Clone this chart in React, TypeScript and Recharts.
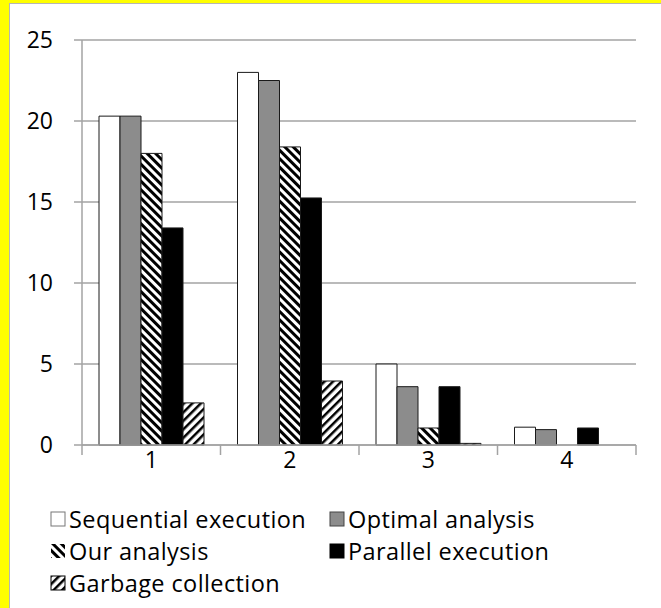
import React from "react";
import { BarChart, Bar, XAxis, YAxis, CartesianGrid } from "recharts";

const categories = ["1", "2", "3", "4"];
const sequential = [20.3, 23.0, 5.0, 1.1];
const optimal = [20.3, 22.5, 3.6, 0.95];
const ours = [18.0, 18.4, 1.05, 0];
const parallel = [13.4, 15.25, 3.6, 1.05];
const garbage = [2.6, 3.95, 0.1, 0];
const yTicks = [0, 5, 10, 15, 20, 25];

const data = categories.map((name, i) => ({
  name,
  sequential: sequential[i],
  optimal: optimal[i],
  ours: ours[i],
  parallel: parallel[i],
  garbage: garbage[i],
}));

const FONT = "'Open Sans', sans-serif";
const axisGray = "#a3a3a3";
const barGray = "#8c8c8c";
const outline = "#1a1a1a";

const chartW = 661;
const chartH = 480;
const margin = { top: 40, right: 25, left: 0, bottom: 0 };
const yAxisW = 82;
const halfBand = (chartW - margin.right - yAxisW) / categories.length / 2;

function XTick(props) {
  const { x, y, payload, index } = props;
  return (
    <g>
      <line x1={x - halfBand} x2={x - halfBand} y1={y} y2={y + 10} stroke={axisGray} strokeWidth={1.5} />
      {index === categories.length - 1 && (
        <line x1={x + halfBand} x2={x + halfBand} y1={y} y2={y + 10} stroke={axisGray} strokeWidth={1.5} />
      )}
      <text x={x} y={y + 23} textAnchor="middle" fill="#000" fontSize={23} fontFamily={FONT}>
        {payload.value}
      </text>
    </g>
  );
}

function Hatch({ id, dir, thick }) {
  return (
    <pattern
      id={id}
      patternUnits="userSpaceOnUse"
      width={6}
      height={6}
      patternTransform={`rotate(${dir})`}
    >
      <rect width={6} height={6} fill="#fff" />
      <rect width={thick} height={6} fill="#000" />
    </pattern>
  );
}

const legendItems = [
  { label: "Sequential execution", fill: "#fff", stroke: "#777", col: 0, row: 0 },
  { label: "Optimal analysis", fill: barGray, stroke: "#444", col: 1, row: 0 },
  { label: "Our analysis", fill: "url(#lgOur)", stroke: "none", col: 0, row: 1 },
  { label: "Parallel execution", fill: "#000", stroke: "#000", col: 1, row: 1 },
  { label: "Garbage collection", fill: "url(#lgGc)", stroke: "#000", col: 0, row: 2 },
];

function Legend() {
  return (
    <div style={{ position: "absolute", left: 0, top: 0, width: chartW, height: 608, pointerEvents: "none" }}>
      {legendItems.map((it) => (
        <div
          key={it.label}
          style={{
            position: "absolute",
            left: it.col === 0 ? 50 : 329,
            top: 503 + it.row * 32,
            height: 32,
            lineHeight: "32px",
            display: "flex",
            alignItems: "center",
            fontFamily: FONT,
            fontSize: 23.5,
            letterSpacing: 0.4,
            color: "#000",
            whiteSpace: "nowrap",
          }}
        >
          <svg width={16} height={16} style={{ marginRight: 3 }}>
            <defs>
              <Hatch id="lgOur" dir={-45} thick={3} />
              <Hatch id="lgGc" dir={45} thick={2.5} />
            </defs>
            <rect x={1} y={1} width={14} height={14} fill={it.fill} stroke={it.stroke} strokeWidth={1} />
          </svg>
          <span>{it.label}</span>
        </div>
      ))}
    </div>
  );
}

export default function App() {
  return (
    <div style={{ position: "absolute", left: 0, top: 0, width: 661, height: 608, background: "#ffff00" }}>
      <div
        style={{
          position: "absolute",
          left: 9,
          top: 3,
          right: 0,
          bottom: 0,
          background: "#fff",
          borderLeft: "1.5px solid #b5b5b5",
          borderTop: "1.5px solid #b5b5b5",
        }}
      />
      <div style={{ position: "absolute", left: 0, top: 0 }}>
        <BarChart
          width={chartW}
          height={chartH}
          data={data}
          margin={margin}
          barCategoryGap={17}
          barGap={0}
        >
          <defs>
            <Hatch id="ourHatch" dir={-45} thick={3} />
            <Hatch id="gcHatch" dir={45} thick={2.5} />
          </defs>
          <CartesianGrid vertical={false} stroke={axisGray} strokeWidth={1.5} />
          <XAxis
            dataKey="name"
            height={35}
            axisLine={{ stroke: axisGray, strokeWidth: 1.5 }}
            tickLine={false}
            tickSize={0}
            tickMargin={0}
            tick={<XTick />}
            interval={0}
          />
          <YAxis
            width={yAxisW}
            domain={[0, 25]}
            ticks={yTicks}
            axisLine={{ stroke: axisGray, strokeWidth: 1.5 }}
            tickLine={{ stroke: axisGray, strokeWidth: 1.5 }}
            tickSize={8}
            tickMargin={21}
            tick={{ fill: "#000", fontSize: 23, fontFamily: FONT }}
          />
          <Bar dataKey="sequential" fill="#fff" stroke={outline} strokeWidth={1} isAnimationActive={false} />
          <Bar dataKey="optimal" fill={barGray} stroke={outline} strokeWidth={1} isAnimationActive={false} />
          <Bar dataKey="ours" fill="url(#ourHatch)" stroke={outline} strokeWidth={1} isAnimationActive={false} />
          <Bar dataKey="parallel" fill="#000" stroke={outline} strokeWidth={1} isAnimationActive={false} />
          <Bar dataKey="garbage" fill="url(#gcHatch)" stroke={outline} strokeWidth={1} isAnimationActive={false} />
        </BarChart>
      </div>
      <Legend />
    </div>
  );
}
